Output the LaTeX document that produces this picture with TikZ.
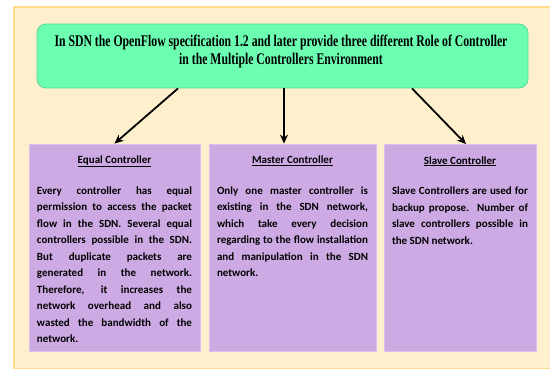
\documentclass[tikz,border=0pt]{standalone}
\usepackage{fontspec}
\setmainfont{Liberation Serif}
\newfontfamily\bodyfont{Carlito}
\newfontfamily\headfont[FakeStretch=0.72]{Liberation Serif}
\usetikzlibrary{arrows.meta,calc}

\definecolor{panelfill}{HTML}{FFF0CD}
\definecolor{panelline}{HTML}{FFD98C}
\definecolor{headfill}{HTML}{6DFFB1}
\definecolor{headline}{HTML}{5AD994}
\definecolor{rolefill}{HTML}{CDAAE4}
\definecolor{roleline}{HTML}{DCC0EE}

\tikzset{
  panel/.style={fill=panelfill, draw=panelline, line width=1.5pt},
  headbox/.style={fill=headfill, draw=headline, line width=0.8pt,
    rounded corners=9pt, minimum width=491pt, minimum height=64pt,
    inner sep=0pt},
  headtext/.style={align=center, inner sep=0pt,
    font=\headfont\bfseries\fontsize{16.3}{18}\selectfont},
  rolebox/.style={fill=rolefill, draw=roleline, line width=0.8pt,
    inner sep=0pt, minimum height=207pt},
  roletext/.style={anchor=north, inner sep=0pt, align=justify,
    font=\bodyfont\bfseries\fontsize{11}{16.5}\selectfont},
  link/.style={-{Stealth[length=9pt,width=8pt]}, line width=1.8pt}
}

\newcommand{\roletitle}[1]{{\centering\underline{#1}\par}\vspace{14pt}}

\begin{document}
\begin{tikzpicture}[x=1pt,y=-1pt]
\useasboundingbox (0,0) rectangle (550,369);
\fill[white] (0,0) rectangle (550,369);
\draw[panel] (14,7) rectangle (558,368.5);

% heading
\node[headbox] (top) at (282.5,56) {};
\node[headtext] (toptext) at (281,51)
  {In SDN the OpenFlow specification 1.2 and later provide three different Role of Controller\\
   in the Multiple Controllers Environment};

% role boxes
\node[rolebox, minimum width=171pt] (eq) at (114.5,247.5) {};
\node[rolebox, minimum width=167pt] (ms) at (292.5,247.5) {};
\node[rolebox, minimum width=152pt] (sl) at (460,248) {};

\node[roletext, text width=155pt] (eqtext) at ([yshift=-12pt]eq.north) {%
  \hyphenpenalty=10000\exhyphenpenalty=10000
  \roletitle{Equal Controller}
  Every controller has equal\linebreak
  permission to access the packet\linebreak
  flow in the SDN. Several equal\linebreak
  controllers possible in the SDN.\linebreak
  But duplicate packets are\linebreak
  generated in the network.\linebreak
  Therefore, it increases the\linebreak
  network overhead and also\linebreak
  wasted the bandwidth of the\linebreak
  network.};

\node[roletext, text width=151pt] (mstext) at ([yshift=-12pt]ms.north) {%
  \hyphenpenalty=10000\exhyphenpenalty=10000
  \roletitle{Master Controller}
  Only one master controller is\linebreak
  existing in the SDN network,\linebreak
  which take every decision\linebreak
  regarding to the flow installation\linebreak
  and manipulation in the SDN\linebreak
  network.};

\node[roletext, text width=136pt] (sltext) at ([yshift=-12pt]sl.north) {%
  \hyphenpenalty=10000\exhyphenpenalty=10000
  \roletitle{Slave Controller}
  Slave Controllers are used for\linebreak
  backup propose. Number of\linebreak
  slave controllers possible in\linebreak
  the SDN network.};

% connectors
\coordinate (eqstart) at ($(top.south)+(-104.5,0)$);
\coordinate (msstart) at ($(top.south)+(1.5,0)$);
\coordinate (slstart) at ($(top.south)+(129.5,0)$);
\draw[link] (eqstart) -- (eq.north);
\draw[link] (msstart) -- (msstart |- ms.north);
\draw[link] (slstart) -- ([xshift=6pt]sl.north);
\end{tikzpicture}
\end{document}
